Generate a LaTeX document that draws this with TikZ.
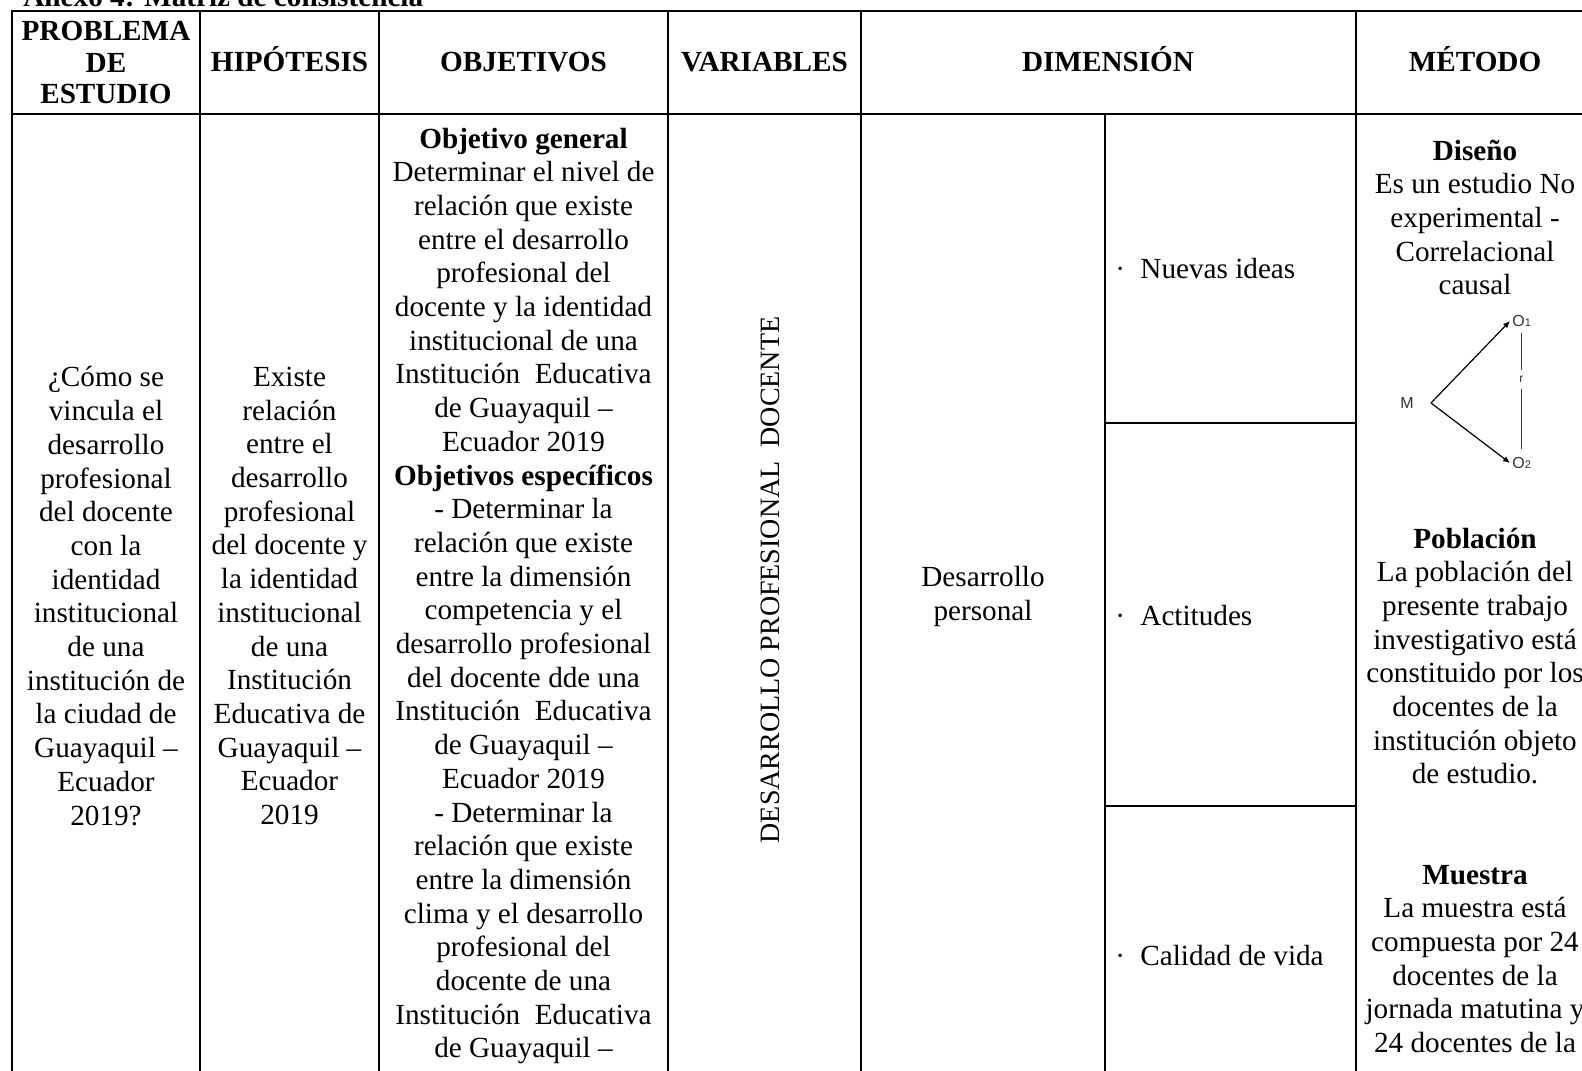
\documentclass[tikz,border=0pt]{standalone}
\usepackage{fontspec}
\setmainfont{Liberation Serif}
\newfontfamily\diagfont{Liberation Sans}
\usetikzlibrary{arrows.meta}

\begin{document}
\begin{tikzpicture}[x=0.5pt,y=-0.5pt,
	rule/.style={line width=1pt,line cap=rect},
	celltext/.style={align=center,inner sep=0pt,font=\fontsize{14.6}{16.85}\selectfont},
	headtext/.style={align=center,inner sep=0pt,font=\fontsize{14.6}{15.75}\selectfont\bfseries},
	headone/.style={headtext,anchor=base},
	itemtext/.style={anchor=west,inner sep=0pt,font=\fontsize{14.6}{16.85}\selectfont},
	diaglabel/.style={inner sep=1pt,text=black!80,font=\diagfont\fontsize{8}{9}\selectfont},
	diagarrow/.style={-{Latex[length=3.5pt,width=3pt]},line width=0.6pt}]
				\clip (0,0) rectangle (1582,1070);
				\node[headtext,anchor=base west](title) at (23,7){Anexo 4: Matriz de consistencia};
				% table rules
				\draw[rule] (12,11) -- (1594,11);
				\draw[rule] (12,114) -- (1594,114);
				\foreach \xc in {12,200,379,668,861,1356,1594}
					\draw[rule] (\xc,11) -- (\xc,1080);
				\draw[rule] (1105,114) -- (1105,1080);
				\draw[rule] (1105,423) -- (1356,423);
				\draw[rule] (1105,806) -- (1356,806);
				% header row
				\node(hprob) at (106,62.5)[headtext]{PROBLEMA\\DE\\ESTUDIO};
				\node(hhip) at (289.5,72)[headone]{HIPÓTESIS};
				\node(hobj) at (523.5,72)[headone]{OBJETIVOS};
				\node(hvar) at (764.5,72)[headone]{VARIABLES};
				\node(hdim) at (1108,72)[headone]{DIMENSIÓN};
				\node(hmet) at (1475,72)[headone]{MÉTODO};
				% body
				\node(prob) at (106,596)[celltext]{¿Cómo se\\vincula el\\desarrollo\\profesional\\del docente\\con la\\identidad\\institucional\\de una\\institución de\\la ciudad de\\Guayaquil –\\Ecuador\\2019?};
				\node(hip) at (289.5,596)[celltext]{Existe\\relación\\entre el\\desarrollo\\profesional\\del docente y\\la identidad\\institucional\\de una\\Institución\\Educativa de\\Guayaquil –\\Ecuador\\2019};
				\node(obj) at (523.5,596)[celltext]{\textbf{Objetivo general}\\Determinar el nivel de\\relación que existe\\entre el desarrollo\\profesional del\\docente y la identidad\\institucional de una\\Institución\ \ Educativa\\de Guayaquil –\\Ecuador 2019\\\textbf{Objetivos específicos}\\- Determinar la\\relación que existe\\entre la dimensión\\competencia y el\\desarrollo profesional\\del docente dde una\\Institución\ \ Educativa\\de Guayaquil –\\Ecuador 2019\\- Determinar la\\relación que existe\\entre la dimensión\\clima y el desarrollo\\profesional del\\docente de una\\Institución\ \ Educativa\\de Guayaquil –};
				\node(var) at (770,580)[celltext,rotate=90,font=\fontsize{14}{16}\selectfont]{DESARROLLO PROFESIONAL\ \ DOCENTE};
				\node(dim) at (983,596.5)[celltext]{Desarrollo\\personal};
				\node(ideas) at (1115,269)[itemtext]{\makebox[12.5pt][l]{·}Nuevas ideas};
				\node(actit) at (1115,616)[itemtext]{\makebox[12.5pt][l]{·}Actitudes};
				\node(calid) at (1115,955)[itemtext]{\makebox[12.5pt][l]{·}Calidad de vida};
				\node(diseno) at (1475,217.4)[celltext]{\textbf{Diseño}\\Es un estudio No\\experimental -\\Correlacional\\causal};
				\node(pobl) at (1475,656)[celltext]{\textbf{Población}\\La población del\\presente trabajo\\investigativo está\\constituido por los\\docentes de la\\institución objeto\\de estudio.};
				\node(muest) at (1475,959)[celltext]{\textbf{Muestra}\\La muestra está\\compuesta por 24\\docentes de la\\jornada matutina y\\24 docentes de la};
				% design sketch
				\node(m) at (1407,403)[diaglabel]{M};
				\coordinate (vtx) at (1431,403);
				\node(o1) at (1510,321)[diaglabel,anchor=west]{O{\fontsize{5.5}{6}\selectfont 1}};
				\node(o2) at (1510,463)[diaglabel,anchor=west]{O{\fontsize{5.5}{6}\selectfont 2}};
				\draw[diagarrow] (vtx) -- (o1.west);
				\draw[diagarrow] (vtx) -- (o2.west);
				\draw[line width=0.4pt,black!75,shorten <=2pt,shorten >=3pt] (o1.south) -- node[pos=0.4,fill=white,anchor=east,xshift=1.5pt,inner xsep=0.5pt,inner ysep=3pt,text=black!80,font=\diagfont\fontsize{6}{7}\selectfont]{r} (o2.north);
\end{tikzpicture}
\end{document}
